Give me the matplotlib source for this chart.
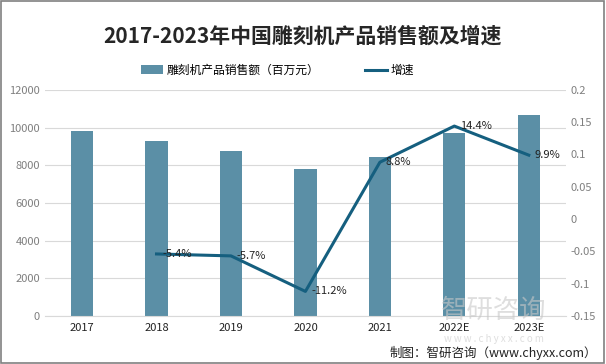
import matplotlib.pyplot as plt
import numpy as np

plt.rcParams['font.family'] = ['Noto Sans CJK SC', 'DejaVu Sans']

years = ["2017", "2018", "2019", "2020", "2021", "2022E", "2023E"]
sales = [9830, 9290, 8760, 7810, 8440, 9720, 10680]
growth_years = ["2018", "2019", "2020", "2021", "2022E", "2023E"]
growth = [-0.054, -0.057, -0.112, 0.088, 0.144, 0.099]
growth_labels = ["-5.4%", "-5.7%", "-11.2%", "8.8%", "14.4%", "9.9%"]

bar_color = "#5b8fa6"
line_color = "#155f7f"

fig = plt.figure(figsize=(6.06, 3.64), dpi=100)
ax1 = fig.add_axes([0.074, 0.132, 0.86, 0.621])
ax2 = ax1.twinx()

x = np.arange(len(years))
ax1.bar(x, sales, width=0.3, color=bar_color, zorder=2, label="雕刻机产品销售额（百万元）")
ax1.set_ylim(0, 12000)
ax1.set_yticks(range(0, 12001, 2000))
ax1.set_xlim(-0.5, len(years) - 0.5)
ax1.set_xticks(x)
ax1.set_xticklabels(years, fontsize=8, color="#222222")
ax1.tick_params(axis="y", labelsize=8, labelcolor="#7f7f7f", length=0)
ax1.tick_params(axis="x", length=0, pad=5)
ax1.grid(axis="y", color="#d9d9d9", linewidth=0.8, zorder=0)
for s in ax1.spines.values():
    s.set_visible(False)
ax1.spines["bottom"].set_visible(True)
ax1.spines["bottom"].set_color("#d9d9d9")

gx = [years.index(y) for y in growth_years]
ax2.plot(gx, growth, color=line_color, linewidth=2.2, zorder=3, label="增速")
for xi, yi, lab in zip(gx, growth, growth_labels):
    ax2.text(xi + 0.08, yi, lab, fontsize=8, va="center", ha="left", color="#222222")
ax2.set_ylim(-0.15, 0.2)
ax2.set_yticks([-0.15, -0.1, -0.05, 0, 0.05, 0.1, 0.15, 0.2])
ax2.set_yticklabels(["-0.15", "-0.1", "-0.05", "0", "0.05", "0.1", "0.15", "0.2"])
ax2.tick_params(axis="y", labelsize=8, labelcolor="#7f7f7f", length=0)
for s in ax2.spines.values():
    s.set_visible(False)

fig.text(0.5, 0.9, "2017-2023年中国雕刻机产品销售额及增速", ha="center", va="center",
         fontsize=15, fontweight="bold", color="#262626")

h1, l1 = ax1.get_legend_handles_labels()
h2, l2 = ax2.get_legend_handles_labels()
fig.legend(h1 + h2, l1 + l2, loc="center", bbox_to_anchor=(0.458, 0.807), ncol=2,
           frameon=False, fontsize=8.5, columnspacing=3.8, handlelength=1.9,
           handletextpad=0.3)

# watermark and source
fig.text(0.815, 0.148, "智研咨询", fontsize=19, color="#c8c8c8", alpha=0.6, ha="center", va="center")
fig.text(0.815, 0.068, "w w w . c h y x x . c o m", fontsize=7, color="#c8c8c8", alpha=0.6,
         ha="center", va="center")
fig.text(0.985, 0.03, "制图：智研咨询（www.chyxx.com）", fontsize=9, color="#222222",
         ha="right", va="center")

fig.patches.append(plt.Rectangle((0.002, 0.003), 0.995, 0.994, transform=fig.transFigure,
                                 fill=False, edgecolor="#808080", linewidth=1.2))

fig.savefig("out.png", dpi=100)
